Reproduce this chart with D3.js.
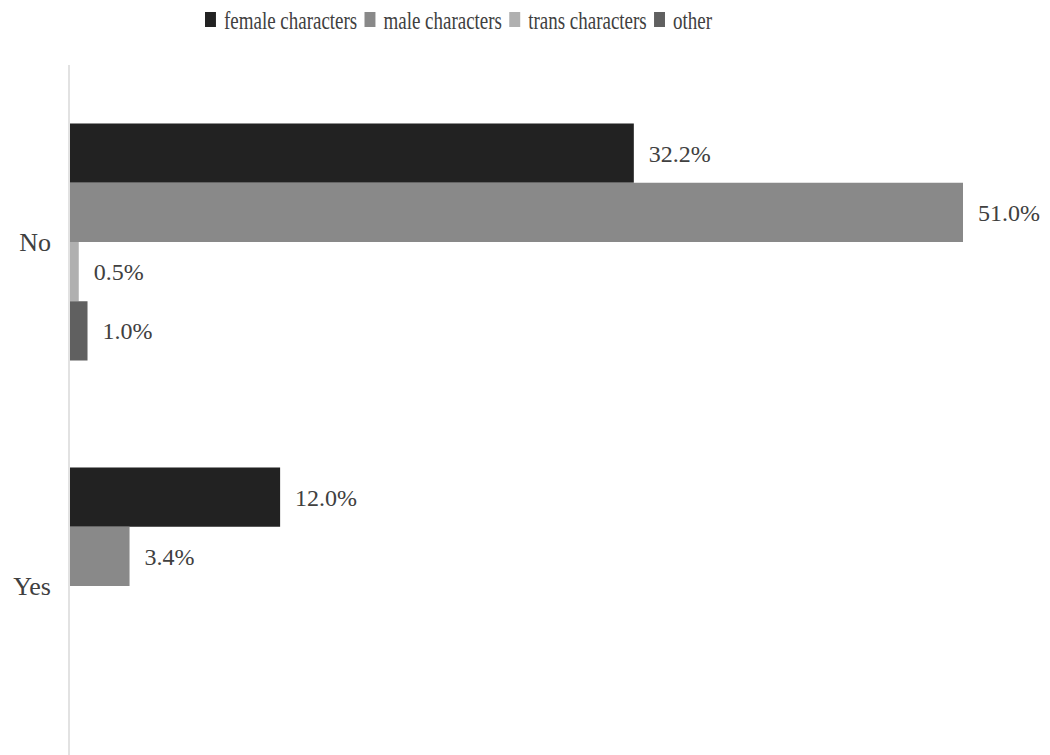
<!DOCTYPE html>
<html>
<head>
<meta charset="utf-8">
<script src="https://cdn.jsdelivr.net/npm/d3@7"></script>
<style>
  body { margin: 0; background: #fff; }
  svg { display: block; font-family: "Liberation Serif", "Times New Roman", serif; }
</style>
</head>
<body>
<svg width="1050" height="755"></svg>
<script>
'use strict';
// data (percent of characters)
var categories = ["No", "Yes"];
var seriesNames = ["female characters", "male characters", "trans characters", "other"];
var seriesColors = ["#222222", "#898989", "#b0b0b0", "#606060"];
var femaleVals = [32.2, 12.0];
var maleVals = [51.0, 3.4];
var transVals = [0.5, null];
var otherVals = [1.0, null];

var allVals = [femaleVals, maleVals, transVals, otherVals];

var svg = d3.select("svg");
var width = +svg.attr("width");
var height = +svg.attr("height");

var x = d3.scaleLinear().domain([0, 51]).range([70, 963]);
var y = d3.scaleBand().domain(categories).range([70, 758])
  .paddingInner(0.311).paddingOuter(0.1555);
var ySub = d3.scaleBand().domain(seriesNames).range([0, y.bandwidth()]);

// axis line
svg.append("line")
  .attr("x1", 69).attr("x2", 69)
  .attr("y1", 65).attr("y2", 755)
  .attr("stroke", "#d9d9d9").attr("stroke-width", 1.5);

var rows = [];
categories.forEach(function(c, ci) {
  seriesNames.forEach(function(s, si) {
    var v = allVals[si][ci];
    if (v != null) rows.push({cat: c, series: s, i: si, value: v});
  });
});

var g = svg.append("g");
g.selectAll("rect")
  .data(rows)
  .enter().append("rect")
  .attr("x", x(0))
  .attr("y", function(d) { return y(d.cat) + ySub(d.series); })
  .attr("width", function(d) { return x(d.value) - x(0); })
  .attr("height", ySub.bandwidth())
  .attr("fill", function(d) { return seriesColors[d.i]; });

g.selectAll("text.val")
  .data(rows)
  .enter().append("text")
  .attr("class", "val")
  .attr("x", function(d) { return x(d.value) + 15; })
  .attr("y", function(d) { return y(d.cat) + ySub(d.series) + ySub.bandwidth() / 2; })
  .attr("dy", "0.35em")
  .attr("font-size", 24)
  .attr("fill", "#404040")
  .text(function(d) { return d.value.toFixed(1) + "%"; });

// category labels
svg.selectAll("text.cat")
  .data(categories)
  .enter().append("text")
  .attr("class", "cat")
  .attr("x", 51)
  .attr("y", function(d) { return y(d) + y.bandwidth() / 2; })
  .attr("dy", "0.35em")
  .attr("text-anchor", "end")
  .attr("font-size", 26)
  .attr("fill", "#404040")
  .text(function(d) { return d; });

// legend (horizontally condensed like the original)
var legend = svg.append("g").attr("transform", "translate(205,0) scale(0.73,1)");
var lx = 0;
seriesNames.forEach(function(s, i) {
  legend.append("rect")
    .attr("x", lx).attr("y", 12)
    .attr("width", 15).attr("height", 15)
    .attr("fill", seriesColors[i]);
  var t = legend.append("text")
    .attr("x", lx + 26).attr("y", 29)
    .attr("font-size", 26)
    .attr("fill", "#404040")
    .text(s);
  lx += 26 + t.node().getComputedTextLength() + 10;
});
</script>
</body>
</html>
